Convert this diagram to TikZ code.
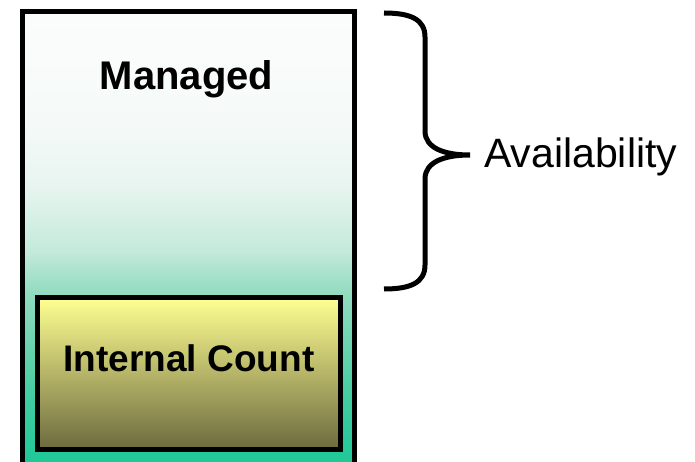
\documentclass[tikz,border=0pt]{standalone}
\usepackage{fontspec}
\setmainfont{Liberation Sans}
\usetikzlibrary{positioning}

\definecolor{mgda}{HTML}{1AC796}
\definecolor{mgdb}{HTML}{40CCA0}
\definecolor{mgdc}{HTML}{6ED4B0}
\definecolor{mgdd}{HTML}{90DBBF}
\definecolor{mgde}{HTML}{C4EADB}
\definecolor{mgdf}{HTML}{E8F5F0}
\definecolor{mgdg}{HTML}{F5FAF8}
\definecolor{mgdh}{HTML}{FBFDFC}
\definecolor{cnttop}{HTML}{FFFF92}
\definecolor{cntmid}{HTML}{C4C07C}
\definecolor{cntbot}{HTML}{6C6A3E}

\pgfdeclareverticalshading{mgdshade}{100bp}{color(0bp)=(mgda); color(25bp)=(mgda);
  color(32.6bp)=(mgdb); color(39.2bp)=(mgdc); color(44.1bp)=(mgdd); color(49bp)=(mgde);
  color(56bp)=(mgdf); color(63bp)=(mgdg); color(75bp)=(mgdh); color(100bp)=(mgdh)}

\tikzset{
  pool/.style={draw=black, line width=5pt, inner sep=0pt},
  title/.style={font=\bfseries\fontsize{40}{42}\selectfont, anchor=base, inner sep=0pt}
}

\begin{document}
\begin{tikzpicture}[x=1pt, y=1pt]
   \useasboundingbox (0,0) rectangle (695,461);
   \node[pool, minimum width=331.5pt, minimum height=458.5pt, shade, shading=mgdshade]
         (managed) at (188.25,220.25) {};
   \node[pool, minimum width=302.5pt, minimum height=152pt,
         top color=cnttop, middle color=cntmid, bottom color=cntbot]
         (count) at (188.75,87.5) {};
   \node[title] (managedtxt) at (186.5,371.7) {Managed};
   \node[title, font=\bfseries\fontsize{37}{39}\selectfont] (counttxt) at (189,90) {Internal Count};
   \node[anchor=base west, inner sep=0pt, font=\fontsize{41}{43}\selectfont]
         (avail) at (484,293) {Availability};
   \coordinate (tip) at (470,306);
   \draw[line width=5pt] (384,448) .. controls (410,448) and (425,442) .. (425,424)
      -- (425,330) .. controls (425,313) and (444,306) .. (tip)
      .. controls (444,306) and (425,299) .. (425,282)
      -- (425,196) .. controls (425,178) and (410,172) .. (384,172);
\end{tikzpicture}
\end{document}
